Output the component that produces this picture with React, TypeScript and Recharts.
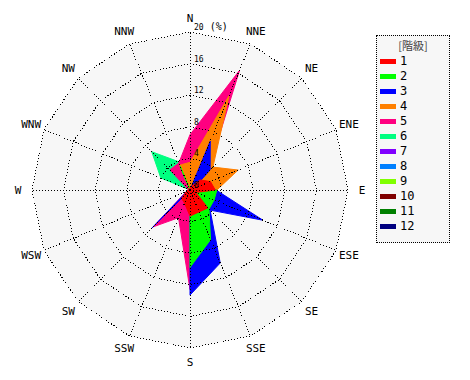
import React from "react";
import { RadarChart, Radar, PolarGrid, PolarAngleAxis, PolarRadiusAxis } from "recharts";

// 風配図: 16方位 x 階級別の頻度(%)
const DIRS = ["N", "NNE", "NE", "ENE", "E", "ESE", "SE", "SSE", "S", "SSW", "SW", "WSW", "W", "WNW", "NW", "NNW"];

const CLASS_1 = [0.3, 0.5, 1.8, 2.8, 3.2, 0.8, 3.2, 3.0, 3.3, 1.8, 1.5, 0.5, 0.3, 0.2, 0.2, 0.2];
const CLASS_2 = [0, 0, 0, 0, 3.4, 3.3, 3.4, 6.8, 9.8, 0, 0, 0, 0, 0, 0, 3.3];
const CLASS_3 = [0, 6.7, 3.6, 0.5, 3.3, 10.0, 3.6, 10.0, 13.3, 0, 6.8, 0.4, 0, 0, 0, 0];
const CLASS_4 = [3.5, 12.9, 4.1, 6.6, 3.4, 0, 0, 0, 0, 0, 0, 0, 0, 0, 0, 3.4];
const CLASS_5 = [7.0, 16.4, 3.2, 0, 0, 0, 0, 0, 12.6, 3.8, 6.6, 0.5, 0, 0.3, 3.6, 3.7];
const CLASS_6 = [0, 0, 0, 0, 0, 0, 0, 0, 0, 0, 0, 0, 0, 4.0, 6.85, 3.9];
const ZERO = DIRS.map(() => 0);
const CLASSES = [CLASS_1, CLASS_2, CLASS_3, CLASS_4, CLASS_5, CLASS_6, ZERO, ZERO, ZERO, ZERO, ZERO, ZERO];
const CLASS_LABELS = ["1", "2", "3", "4", "5", "6", "7", "8", "9", "10", "11", "12"];
const COLORS = [
  "#ff0000", "#00ff00", "#0000ff", "#ff8000", "#ff0080", "#00ff80",
  "#8000ff", "#0080ff", "#80ff00", "#800000", "#008000", "#000080",
];
const MAX_PCT = 20;

const data = DIRS.map((dir, i) => {
  const row: Record<string, number | string> = { dir, bg: MAX_PCT };
  CLASSES.forEach((arr, k) => (row[`c${k + 1}`] = arr[i]));
  return row;
});

const W = 470;
const H = 380;
const CX = 190;
const CY = 190;
const R = 158;
const LABEL_R = 172;
const MONO = "'DejaVu Sans Mono', monospace";

function DirTick(props: any) {
  const { x, y, payload } = props;
  const dx = x - CX;
  const dy = y - CY;
  const d = Math.hypot(dx, dy) || 1;
  return (
    <text
      x={CX + (dx / d) * LABEL_R}
      y={CY + (dy / d) * LABEL_R}
      textAnchor="middle"
      dominantBaseline="central"
      fontSize={11}
      fontFamily={MONO}
      fill="#000"
    >
      {payload.value}
    </text>
  );
}

function RadTick(props: any) {
  const { x, y, payload } = props;
  return (
    <text x={x + 4} y={y - 2} fontSize={8} fontFamily={MONO} fill="#000">
      {payload.value}
      {payload.value === MAX_PCT && (
        <tspan dx={6} fontSize={10}>
          (%)
        </tspan>
      )}
    </text>
  );
}

export default function App() {
  // 大きい階級から描いて、小さい階級を上に重ねる
  const order = CLASS_LABELS.map((_, k) => k).reverse();
  return (
    <div style={{ position: "absolute", left: 0, top: 0, width: W, height: H, background: "#fff" }}>
      <div style={{ position: "absolute", left: 0, top: 0 }}>
        <RadarChart width={W} height={H} cx={CX} cy={CY} outerRadius={R} data={data}>
          <PolarAngleAxis dataKey="dir" tick={false} axisLine={false} tickLine={false} />
          <PolarRadiusAxis domain={[0, MAX_PCT]} tick={false} axisLine={false} />
          <Radar dataKey="bg" fill="#f7f7f7" stroke="none" fillOpacity={1} isAnimationActive={false} dot={false} />
          {order.map((k) => (
            <Radar
              key={k}
              dataKey={`c${k + 1}`}
              fill={COLORS[k]}
              fillOpacity={1}
              stroke={k < 6 ? COLORS[k] : "none"}
              strokeWidth={1}
              isAnimationActive={false}
              dot={false}
            />
          ))}
        </RadarChart>
      </div>
      <div style={{ position: "absolute", left: 0, top: 0 }}>
        <RadarChart width={W} height={H} cx={CX} cy={CY} outerRadius={R} data={data}>
          <PolarGrid stroke="#000" strokeDasharray="1 2" shapeRendering="crispEdges" />
          <PolarAngleAxis dataKey="dir" tick={<DirTick />} axisLine={false} tickLine={false} />
          <PolarRadiusAxis angle={90} domain={[0, MAX_PCT]} tickCount={6} axisLine={false} tick={<RadTick />} />
          <Radar dataKey="bg" fill="none" stroke="none" isAnimationActive={false} dot={false} />
        </RadarChart>
      </div>
      <div
        style={{
          position: "absolute",
          left: 376,
          top: 35,
          width: 72,
          height: 206,
          border: "1px dotted #000",
          background: "#f7f7f7",
        }}
      >
        <div
          style={{
            position: "absolute",
            left: 0,
            top: 2,
            width: 72,
            textAlign: "center",
            fontSize: 11,
            fontFamily: "'Noto Sans CJK JP', sans-serif",
            color: "#444",
            lineHeight: "14px",
          }}
        >
          [階級]
        </div>
        {CLASS_LABELS.map((lab, k) => (
          <div key={lab} style={{ position: "absolute", left: 3, top: 18 + k * 15, height: 14, display: "flex", alignItems: "center" }}>
            <span style={{ display: "inline-block", width: 16, height: 5, background: COLORS[k] }} />
            <span style={{ marginLeft: 4, fontSize: 12, fontFamily: MONO, color: "#000" }}>{lab}</span>
          </div>
        ))}
      </div>
    </div>
  );
}
